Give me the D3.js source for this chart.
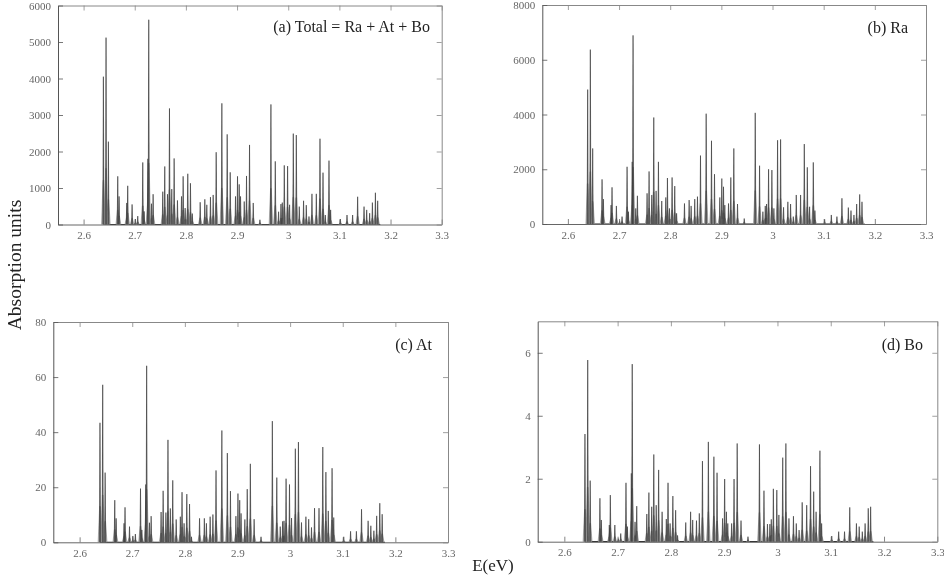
<!DOCTYPE html>
<html><head><meta charset="utf-8">
<script src="https://cdn.jsdelivr.net/npm/d3@7"></script>
<style>
html,body{margin:0;padding:0;background:#fff}
svg{display:block;filter:blur(0.45px)}
text{font-family:"Liberation Serif",serif}
</style></head><body>
<svg id="c" width="944" height="582"></svg>
<script>
const energies=[2.6387,2.6439,2.6485,2.6668,2.6694,2.6844,2.6863,2.6948,2.7012,2.7059,2.7157,2.7183,2.7257,2.7274,2.7327,2.7359,2.7548,2.7587,2.764,2.7679,2.7724,2.777,2.7835,2.7914,2.7946,2.7985,2.8037,2.8089,2.8125,2.8279,2.837,2.8409,2.848,2.8533,2.8592,2.8703,2.8807,2.8866,2.897,2.9009,2.9042,2.9068,2.914,2.9185,2.9244,2.9316,2.9447,2.9662,2.9747,2.9812,2.9858,2.9884,2.9923,2.9988,3.0027,3.0099,3.0158,3.0216,3.03,3.0353,3.0406,3.0464,3.0549,3.0621,3.068,3.0725,3.0797,3.0829,3.1019,3.1149,3.1259,3.1357,3.1482,3.1534,3.1592,3.1645,3.1704,3.1749];
const totalValues=[4050,5120,2270,1320,770,590,1060,550,150,230,1700,360,1800,5610,570,830,900,1590,830,3180,970,1810,660,770,1320,450,1390,1130,300,610,690,540,750,810,1980,3320,2470,1430,770,1320,1100,770,630,1330,2180,590,130,3290,1730,350,560,600,1620,1600,540,2490,2450,490,650,530,220,840,840,2350,1420,260,1750,400,150,260,260,760,490,400,310,600,870,650];
const raValues=[4910,6370,2760,1630,910,690,1340,660,120,270,2090,450,2270,6890,570,1030,1120,1920,1060,3890,1210,2270,840,970,1680,570,1700,1385,390,750,875,660,910,1000,2500,4030,3040,1820,970,1660,1360,690,750,1700,2760,730,200,4060,2130,450,660,730,2000,1970,570,3060,3090,610,810,730,270,1060,1060,2920,2070,630,2250,490,170,330,270,940,600,490,330,730,1080,810];
const atValues=[43.4,57.2,25.3,15.3,8.7,6.9,12.7,5.7,2.3,3,19.5,4.5,21,64.1,7.1,9.5,11,18.7,10.8,37.2,12.3,22.5,8.3,9.3,18.2,6.9,17.5,13.9,2,8.7,8.7,6.9,9.3,10.1,26.1,40.6,32.4,18.6,9.5,17.7,15.3,10.5,8.3,19.3,28.5,8.4,2,44,23.5,5.7,7.6,7.8,23.1,21,8.8,34,36.4,7.2,9.3,8.4,5.4,12.4,12.4,34.6,25.5,11.4,26.9,9,2,4,4,12,7.8,6,4.2,9.6,14.2,10.2];
const boValues=[3.42,5.77,1.94,1.38,.69,.53,1.48,.53,.1,.26,1.87,.48,2.17,5.64,.63,1.13,.88,1.56,1.11,2.77,1.16,2.28,.95,.72,1.87,.58,1.45,1,.2,.61,.95,.69,.67,.9,2.56,3.17,2.7,2.19,.74,1.99,.95,.58,.58,1.99,3.12,.67,.16,3.09,1.62,.56,.56,.71,1.68,1.64,.85,2.67,3.12,.74,.81,.58,.37,1.25,1.16,2.4,1.59,.95,2.89,.58,.18,.32,.32,1.09,.58,.48,.32,.58,1.06,1.11];
const xTickValues=[2.6,2.7,2.8,2.9,3,3.1,3.2,3.3];
const totalTicks=[0,1000,2000,3000,4000,5000,6000];
const raTicks=[0,2000,4000,6000,8000];
const atTicks=[0,20,40,60,80];
const boTicks=[0,2,4,6];
const panels=[
 {label:"(a) Total = Ra + At + Bo",values:totalValues,ticks:totalTicks,yMax:6000,l:58,r:441.7,t:5.5,b:224.5,lx:430,ly:32},
 {label:"(b) Ra",values:raValues,ticks:raTicks,yMax:8000,l:542.3,r:926,t:5,b:224,lx:908,ly:33},
 {label:"(c) At",values:atValues,ticks:atTicks,yMax:80,l:53.3,r:448,t:322,b:542.3,lx:432,ly:350},
 {label:"(d) Bo",values:boValues,ticks:boTicks,yMax:7,l:537.7,r:937.3,t:321.3,b:541.7,lx:923,ly:350}
];
const svg=d3.select("#c");
const w=0.0011;
panels.forEach(p=>{
  const x=d3.scaleLinear().domain([2.55,3.3]).range([p.l,p.r]);
  const y=d3.scaleLinear().domain([0,p.yMax]).range([p.b,p.t]);
  const g=svg.append("g");
  const line=d3.line().x(d=>x(d[0])).y(d=>y(d[1]));
  g.append("path").attr("d",line([[energies[0],0],[energies[energies.length-1]+0.005,0]]))
    .attr("stroke","#222").attr("stroke-width",1.2).attr("fill","none");
  const peaks=energies.map((e,i)=>[e,p.values[i]]);
  // peak skirts: a wide pale foot under each narrow line
  g.selectAll("path.foot").data(peaks).join("path").attr("class","foot")
    .attr("d",d=>line([[d[0]-w*3.2,0],[d[0]-w*0.6,d[1]*0.3],[d[0]+w*0.6,d[1]*0.3],[d[0]+w*3.2,0]]))
    .attr("fill","#bbb").attr("stroke","#777").attr("stroke-width",0.5);
  g.selectAll("path.peak").data(peaks).join("path").attr("class","peak")
    .attr("d",d=>line([[d[0]-w,0],[d[0],d[1]],[d[0]+w,0]]))
    .attr("fill","#777").attr("stroke","#222").attr("stroke-width",0.55);
  const fmt=d3.format("~g");
  const style=(a,col)=>{a.select(".domain").attr("stroke",col).attr("stroke-width",1);a.selectAll("line").attr("stroke",col).attr("stroke-width",0.8);};
  const bottom=g.append("g").attr("transform",`translate(0,${p.b})`).call(d3.axisBottom(x).tickValues(xTickValues).tickFormat(fmt).tickSizeInner(-5).tickSizeOuter(0).tickPadding(7));
  style(bottom,"#666");
  const top=g.append("g").attr("transform",`translate(0,${p.t})`).call(d3.axisTop(x).tickValues(xTickValues).tickFormat("").tickSizeInner(-5).tickSizeOuter(0));
  style(top,"#888");
  const left=g.append("g").attr("transform",`translate(${p.l},0)`).call(d3.axisLeft(y).tickValues(p.ticks).tickFormat(fmt).tickSizeInner(-5).tickSizeOuter(0).tickPadding(7));
  style(left,"#555");
  const right=g.append("g").attr("transform",`translate(${p.r},0)`).call(d3.axisRight(y).tickValues(p.ticks).tickFormat("").tickSizeInner(-5).tickSizeOuter(0));
  style(right,"#888");
  g.selectAll(".tick text").attr("font-family","Liberation Serif").attr("font-size",11).attr("fill","#666");
  g.append("text").attr("x",p.lx).attr("y",p.ly).attr("text-anchor","end").attr("font-size",16).attr("fill","#222").text(p.label);
});
svg.append("text").attr("transform","translate(21,265) rotate(-90)").attr("text-anchor","middle").attr("font-size",19.5).attr("fill","#222").text("Absorption units");
svg.append("text").attr("x",493).attr("y",571).attr("text-anchor","middle").attr("font-size",17).attr("fill","#222").text("E(eV)");
</script></body></html>
